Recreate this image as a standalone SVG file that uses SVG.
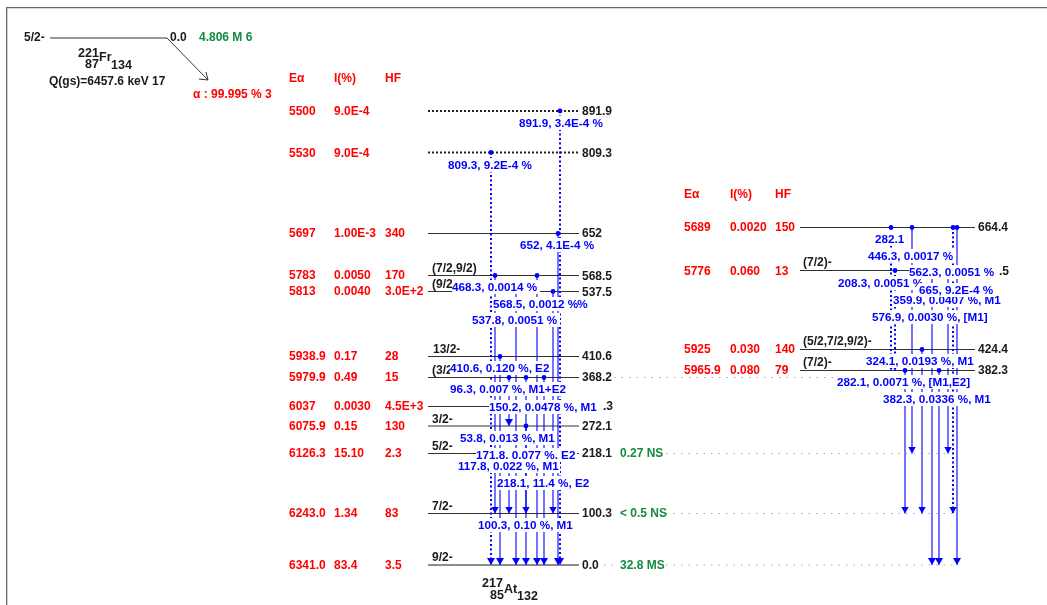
<svg xmlns="http://www.w3.org/2000/svg" width="1047" height="605" viewBox="0 0 1047 605">
<defs>
<marker id="dot" markerUnits="userSpaceOnUse" markerWidth="6" markerHeight="6" refX="3" refY="3"><circle cx="3" cy="3" r="2.4" fill="#0000ff"/></marker>
<marker id="tip" markerUnits="userSpaceOnUse" markerWidth="8" markerHeight="8" refX="4" refY="7"><path d="M0 0H8L4 7Z" fill="#0000ff"/></marker>
<filter id="soft" x="0" y="0" width="100%" height="100%"><feGaussianBlur stdDeviation="0.35"/></filter>
</defs>
<style>
text{font-family:"Liberation Sans",Arial,sans-serif;font-weight:bold;font-size:12px}
.k{fill:#1a1a1a}.r{fill:#ff0000}.g{fill:#148a40}.b{fill:#0000ff;font-size:11.7px}
.sm{font-size:12.5px;fill:#1a1a1a}
.lv{stroke:#333;stroke-width:1.2;fill:none}
.lvd{stroke:#222;stroke-width:2;stroke-dasharray:2 2;fill:none}
.gnd{stroke:#666;stroke-width:1.6;fill:none}
.t{stroke:#0000ff;stroke-width:1.1;fill:none;marker-start:url(#dot);marker-end:url(#tip)}
.d{stroke:#0000ff;stroke-width:2;stroke-dasharray:2 2.5;fill:none;marker-start:url(#dot);marker-end:url(#tip)}
.lk{stroke:#aaa;stroke-width:1;stroke-dasharray:1.5 6;fill:none}
.m{fill:#fff;height:14px}
</style>
<rect width="1047" height="605" fill="#fff"/>
<g filter="url(#soft)">
<path id="frame" d="M6.500 605V7.500H1047" fill="none" stroke="#666" stroke-width="1.6"/>

<g id="parent-221Fr">
<text class="k" x="24" y="41">5/2-</text>
<path class="lv" d="M50 38H167"/>
<text class="k" x="170" y="41">0.0</text>
<text class="g" x="199" y="41">4.806 M 6</text>
<text class="sm" x="78" y="57">221</text><text class="sm" x="85" y="68">87</text><text class="sm" x="99" y="61">Fr</text><text class="sm" x="111" y="69">134</text>
<text class="k" x="49" y="85">Q(gs)=6457.6 keV 17</text>
<path d="M167 38L208 80M199 79L208 80L206 72" stroke="#333" stroke-width="1" fill="none"/>
<text class="r" x="193" y="98">α : 99.995 % 3</text>
</g>

<g id="headers">
<text class="r" x="289" y="82">Eα</text><text class="r" x="334" y="82">I(%)</text><text class="r" x="385" y="82">HF</text>
<text class="r" x="684" y="198">Eα</text><text class="r" x="730" y="198">I(%)</text><text class="r" x="775" y="198">HF</text>
</g>

<g id="links">
<path class="lk" d="M584 377.500H840M604 565H618M666 565H956M666 513.500H955M666 453.500H945"/>
</g>

<g id="level-891.9"><path class="lvd" d="M428 111H579"/><text class="k" x="582" y="115">891.9</text><text class="r" x="289" y="115">5500</text><text class="r" x="334" y="115">9.0E-4</text></g>
<g id="level-809.3"><path class="lvd" d="M428 152.500H579"/><text class="k" x="582" y="157">809.3</text><text class="r" x="289" y="157">5530</text><text class="r" x="334" y="157">9.0E-4</text></g>
<g id="level-652"><path class="lv" d="M428 233.500H579"/><text class="k" x="582" y="237">652</text><text class="r" x="289" y="237">5697</text><text class="r" x="334" y="237">1.00E-3</text><text class="r" x="385" y="237">340</text></g>
<g id="level-568.5"><path class="lv" d="M428 275.500H579"/><text class="k" x="432" y="272">(7/2,9/2)</text><text class="k" x="582" y="280">568.5</text><text class="r" x="289" y="279">5783</text><text class="r" x="334" y="279">0.0050</text><text class="r" x="385" y="279">170</text></g>
<g id="level-537.5"><path class="lv" d="M428 291.500H579"/><text class="k" x="432" y="288">(9/2</text><text class="k" x="582" y="296">537.5</text><text class="r" x="289" y="295">5813</text><text class="r" x="334" y="295">0.0040</text><text class="r" x="385" y="295">3.0E+2</text></g>
<g id="level-410.6"><path class="lv" d="M428 356.500H579"/><text class="k" x="433" y="353">13/2-</text><text class="k" x="582" y="360">410.6</text><text class="r" x="289" y="360">5938.9</text><text class="r" x="334" y="360">0.17</text><text class="r" x="385" y="360">28</text></g>
<g id="level-368.2"><path class="lv" d="M428 377.500H579"/><text class="k" x="432" y="374">(3/2</text><text class="k" x="582" y="381">368.2</text><text class="r" x="289" y="381">5979.9</text><text class="r" x="334" y="381">0.49</text><text class="r" x="385" y="381">15</text></g>
<g id="level-6037"><path class="lv" d="M428 406.500H579"/><text class="k" x="603" y="410">.3</text><text class="r" x="289" y="410">6037</text><text class="r" x="334" y="410">0.0030</text><text class="r" x="385" y="410">4.5E+3</text></g>
<g id="level-272.1"><path class="lv" d="M428 426H579"/><text class="k" x="432" y="423">3/2-</text><text class="k" x="582" y="430">272.1</text><text class="r" x="289" y="430">6075.9</text><text class="r" x="334" y="430">0.15</text><text class="r" x="385" y="430">130</text></g>
<g id="level-218.1"><path class="lv" d="M428 453.500H579"/><text class="k" x="432" y="450">5/2-</text><text class="k" x="582" y="457">218.1</text><text class="g" x="620" y="457">0.27 NS</text><text class="r" x="289" y="457">6126.3</text><text class="r" x="334" y="457">15.10</text><text class="r" x="385" y="457">2.3</text></g>
<g id="level-100.3"><path class="lv" d="M428 513.500H579"/><text class="k" x="432" y="510">7/2-</text><text class="k" x="582" y="517">100.3</text><text class="g" x="620" y="517">&lt; 0.5 NS</text><text class="r" x="289" y="517">6243.0</text><text class="r" x="334" y="517">1.34</text><text class="r" x="385" y="517">83</text></g>
<g id="level-0"><path class="gnd" d="M428 565H579"/><text class="k" x="432" y="561">9/2-</text><text class="k" x="582" y="569">0.0</text><text class="g" x="620" y="569">32.8 MS</text><text class="r" x="289" y="569">6341.0</text><text class="r" x="334" y="569">83.4</text><text class="r" x="385" y="569">3.5</text></g>

<g id="level-664.4"><path class="lv" d="M800 227.500H975"/><text class="k" x="978" y="231">664.4</text><text class="r" x="684" y="231">5689</text><text class="r" x="730" y="231">0.0020</text><text class="r" x="775" y="231">150</text></g>
<g id="level-5776"><path class="lv" d="M800 270.500H975"/><text class="k" x="803" y="266">(7/2)-</text><text class="k" x="999" y="275">.5</text><text class="r" x="684" y="275">5776</text><text class="r" x="730" y="275">0.060</text><text class="r" x="775" y="275">13</text></g>
<g id="level-424.4"><path class="lv" d="M800 349.500H975"/><text class="k" x="803" y="345">(5/2,7/2,9/2)-</text><text class="k" x="978" y="353">424.4</text><text class="r" x="684" y="353">5925</text><text class="r" x="730" y="353">0.030</text><text class="r" x="775" y="353">140</text></g>
<g id="level-382.3"><path class="lv" d="M800 370.500H975"/><text class="k" x="803" y="366">(7/2)-</text><text class="k" x="978" y="374">382.3</text><text class="r" x="684" y="374">5965.9</text><text class="r" x="730" y="374">0.080</text><text class="r" x="775" y="374">79</text></g>

<g id="daughter-217At">
<text class="sm" x="482" y="587">217</text><text class="sm" x="490" y="599">85</text><text class="sm" x="504" y="593">At</text><text class="sm" x="517" y="600">132</text>
</g>

<g id="connectors">
<path class="d" d="M560 111V565"/>
<path class="d" d="M491 152.500V565"/>
<path class="t" d="M558 233.500V565"/>
<path class="t" d="M495 275.500V513.500"/>
<path class="t" d="M537 275.500V565"/>
<path class="t" d="M553 291.500V513.500"/>
<path class="t" d="M516 291.500V565"/>
<path class="t" d="M500 356.500V565"/>
<path class="t" d="M509 377.500V426"/>
<path class="t" d="M544 377.500V565"/>
<path class="t" d="M526 377.500V513.500"/>
<path class="t" d="M526 426V565"/>
<path class="t" d="M509 453.500V513.500"/>
<path class="d" d="M891 227.500V370.500"/>
<path class="t" d="M912 227.500V453.500"/>
<path class="d" d="M953 227.500V513.500"/>
<path class="t" d="M957 227.500V565"/>
<path class="d" d="M895 270.500V370.500"/>
<path class="t" d="M932 270.500V565"/>
<path class="t" d="M948 270.500V453.500"/>
<path class="t" d="M922 349.500V513.500"/>
<path class="t" d="M905 370.500V513.500"/>
<path class="t" d="M939 370.500V565"/>
</g>

<g id="labels">
<rect class="m" x="519" y="116" width="85" height="14"/><text class="b" x="519" y="127">891.9, 3.4E-4 %</text>
<rect class="m" x="448" y="158" width="86" height="14"/><text class="b" x="448" y="169">809.3, 9.2E-4 %</text>
<rect class="m" x="520" y="238" width="76" height="14"/><text class="b" x="520" y="249">652, 4.1E-4 %</text>
<rect class="m" x="452" y="280" width="88" height="14"/><text class="b" x="452" y="291">468.3, 0.0014 %</text>
<rect class="m" x="493" y="297" width="96" height="14"/><text class="b" x="493" y="308">568.5, 0.0012 %<tspan dx="-1">%</tspan></text>
<rect class="m" x="472" y="313" width="88" height="14"/><text class="b" x="472" y="324">537.8, 0.0051 %</text>
<rect class="m" x="450" y="361" width="101" height="14"/><text class="b" x="450" y="372">410.6, 0.120 %, E2</text>
<rect class="m" x="450" y="382" width="119" height="14"/><text class="b" x="450" y="393">96.3, 0.007 %, M1+E2</text>
<rect class="m" x="489" y="400" width="109" height="14"/><text class="b" x="489" y="411">150.2, 0.0478 %, M1</text>
<rect class="m" x="460" y="431" width="97" height="14"/><text class="b" x="460" y="442">53.8, 0.013 %, M1</text>
<rect class="m" x="476" y="448" width="101" height="14"/><text class="b" x="476" y="459">171.8, 0.077 %, E2</text>
<rect class="m" x="458" y="459" width="102" height="14"/><text class="b" x="458" y="470">117.8, 0.022 %, M1</text>
<rect class="m" x="497" y="476" width="94" height="14"/><text class="b" x="497" y="487">218.1, 11.4 %, E2</text>
<rect class="m" x="478" y="518" width="96" height="14"/><text class="b" x="478" y="529">100.3, 0.10 %, M1</text>
<rect class="m" x="875" y="232" width="32" height="14"/><text class="b" x="875" y="243">282.1</text>
<rect class="m" x="868" y="249" width="88" height="14"/><text class="b" x="868" y="260">446.3, 0.0017 %</text>
<rect class="m" x="909" y="265" width="89" height="14"/><text class="b" x="909" y="276">562.3, 0.0051 %</text>
<rect class="m" x="838" y="276" width="88" height="14"/><text class="b" x="838" y="287">208.3, 0.0051 %</text>
<rect class="m" x="893" y="293" width="111" height="14"/><text class="b" x="893" y="304">359.9, 0.0407 %, M1</text>
<rect class="m" x="919" y="283" width="76" height="14"/><text class="b" x="919" y="294">665, 9.2E-4 %</text>
<rect class="m" x="872" y="310" width="120" height="14"/><text class="b" x="872" y="321">576.9, 0.0030 %, [M1]</text>
<rect class="m" x="866" y="354" width="111" height="14"/><text class="b" x="866" y="365">324.1, 0.0193 %, M1</text>
<rect class="m" x="837" y="375" width="137" height="14"/><text class="b" x="837" y="386">282.1, 0.0071 %, [M1,E2]</text>
<rect class="m" x="883" y="392" width="111" height="14"/><text class="b" x="883" y="403">382.3, 0.0336 %, M1</text>
</g>
</g>
</svg>
